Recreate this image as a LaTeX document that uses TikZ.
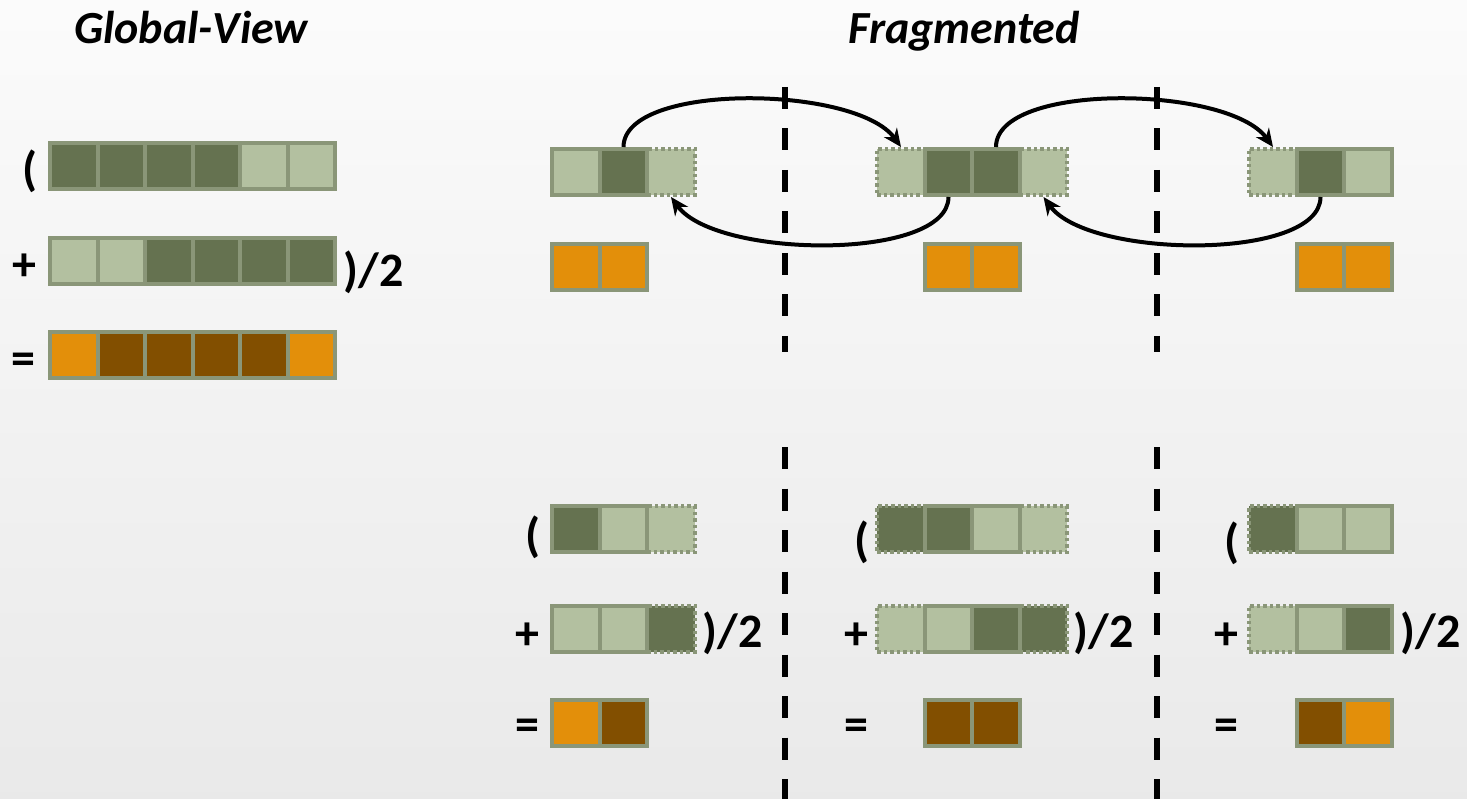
\documentclass[tikz,border=0pt]{standalone}
\usepackage{fontspec}
\setmainfont{Carlito}
\usetikzlibrary{arrows.meta}
\definecolor{dk}{HTML}{657250}
\definecolor{lt}{HTML}{B3C0A0}
\definecolor{rim}{HTML}{8A9678}
\definecolor{orng}{HTML}{E38F0A}
\definecolor{brwn}{HTML}{824F00}
\tikzstyle{cell}=[rectangle,minimum width=47.5pt,minimum height=46pt,inner sep=0,line width=4pt,draw=rim]
\tikzstyle{ghost}=[cell,line width=4pt,dash pattern=on 3.5pt off 3pt]
\tikzstyle{op}=[inner sep=0,font=\fontsize{48}{52}\selectfont\bfseries]
\tikzstyle{title}=[inner sep=0,anchor=base,font=\fontsize{46}{50}\selectfont\bfseries\itshape]
\tikzstyle{arrow}=[line width=4pt,-{Stealth[length=18pt,width=16pt]}]
\tikzstyle{sep}=[line width=6pt,dash pattern=on 22pt off 19.5pt]

\begin{document}
\begin{tikzpicture}[x=1pt,y=-1pt]
\shade[top color=gray!3,bottom color=gray!17] (0,0) rectangle (1467,799);
\useasboundingbox (0,0) rectangle (1467,799);

\node[title] (gtitle) at (191,44) {Global-View};
\node[title] (ftitle) at (964,44) {Fragmented};

% separators
\foreach \x in {785,1157}{
	\draw[sep] (\x,87)--(\x,352);
	\draw[sep] (\x,447)--(\x,799);
}

% global view
\foreach \c [count=\i from 0] in {dk,dk,dk,dk,lt,lt}
	\node[cell,fill=\c] (ga-\i) at ({74+47.5*\i},166) {};
\foreach \c [count=\i from 0] in {lt,lt,dk,dk,dk,dk}
	\node[cell,fill=\c] (gb-\i) at ({74+47.5*\i},261) {};
\foreach \c [count=\i from 0] in {orng,brwn,brwn,brwn,brwn,orng}
	\node[cell,fill=\c] (gc-\i) at ({74+47.5*\i},355.5) {};
\node[op] (gopen) at (30,171) {(};
\node[op] (gplus) at (24,267) {+};
\node[op] (gclose) at (373.5,272) {)/2};
\node[op] (geq) at (23,364) {=};

% fragmented, halo exchange
\foreach \i/\c/\s in {2/lt/ghost,0/lt/cell,1/dk/cell}
	\node[\s,fill=\c] (t1-\i) at ({576+47.5*\i},172) {};
\foreach \i/\c/\s in {0/lt/ghost,3/lt/ghost,1/dk/cell,2/dk/cell}
	\node[\s,fill=\c] (t2-\i) at ({901+47.5*\i},172) {};
\foreach \i/\c/\s in {0/lt/ghost,1/dk/cell,2/lt/cell}
	\node[\s,fill=\c] (t3-\i) at ({1273+47.5*\i},172) {};
\foreach \i in {0,1}{
	\node[cell,fill=orng] (o1-\i) at ({576+47.5*\i},267) {};
	\node[cell,fill=orng] (o2-\i) at ({948.5+47.5*\i},267) {};
	\node[cell,fill=orng] (o3-\i) at ({1320.5+47.5*\i},267) {};
}
\draw[arrow] (t1-1.north) .. controls +(0,-65) and +(-45,-62) .. (t2-0.north);
\draw[arrow] (t2-1.south) .. controls +(0,64) and +(45,62) .. (t1-2.south);
\draw[arrow] (t2-2.north) .. controls +(0,-65) and +(-45,-62) .. (t3-0.north);
\draw[arrow] (t3-1.south) .. controls +(0,64) and +(45,62) .. (t2-3.south);

% fragmented, local sums
\foreach \i/\c/\s in {2/lt/ghost,0/dk/cell,1/lt/cell}
	\node[\s,fill=\c] (a1-\i) at ({576+47.5*\i},529) {};
\foreach \i/\c/\s in {2/dk/ghost,0/lt/cell,1/lt/cell}
	\node[\s,fill=\c] (b1-\i) at ({576+47.5*\i},628.5) {};
\foreach \c [count=\i from 0] in {orng,brwn}
	\node[cell,fill=\c] (c1-\i) at ({576+47.5*\i},723) {};

\foreach \i/\c/\s in {0/dk/ghost,3/lt/ghost,1/dk/cell,2/lt/cell}
	\node[\s,fill=\c] (a2-\i) at ({901+47.5*\i},529) {};
\foreach \i/\c/\s in {0/lt/ghost,3/dk/ghost,1/lt/cell,2/dk/cell}
	\node[\s,fill=\c] (b2-\i) at ({901+47.5*\i},628.5) {};
\foreach \c [count=\i from 0] in {brwn,brwn}
	\node[cell,fill=\c] (c2-\i) at ({948.5+47.5*\i},723) {};

\foreach \i/\c/\s in {0/dk/ghost,1/lt/cell,2/lt/cell}
	\node[\s,fill=\c] (a3-\i) at ({1273+47.5*\i},529) {};
\foreach \i/\c/\s in {0/lt/ghost,1/lt/cell,2/dk/cell}
	\node[\s,fill=\c] (b3-\i) at ({1273+47.5*\i},628.5) {};
\foreach \c [count=\i from 0] in {brwn,orng}
	\node[cell,fill=\c] (c3-\i) at ({1320.5+47.5*\i},723) {};

\node[op] (open1) at (533,537) {(};
\node[op] (plus1) at (527,636) {+};
\node[op] (close1) at (732.5,633) {)/2};
\node[op] (eq1) at (527,730) {=};
\node[op] (open2) at (862,542) {(};
\node[op] (plus2) at (856,636) {+};
\node[op] (close2) at (1103.5,633) {)/2};
\node[op] (eq2) at (856,730) {=};
\node[op] (open3) at (1232,543) {(};
\node[op] (plus3) at (1226,636) {+};
\node[op] (close3) at (1430.5,633) {)/2};
\node[op] (eq3) at (1226,730) {=};
\end{tikzpicture}
\end{document}
